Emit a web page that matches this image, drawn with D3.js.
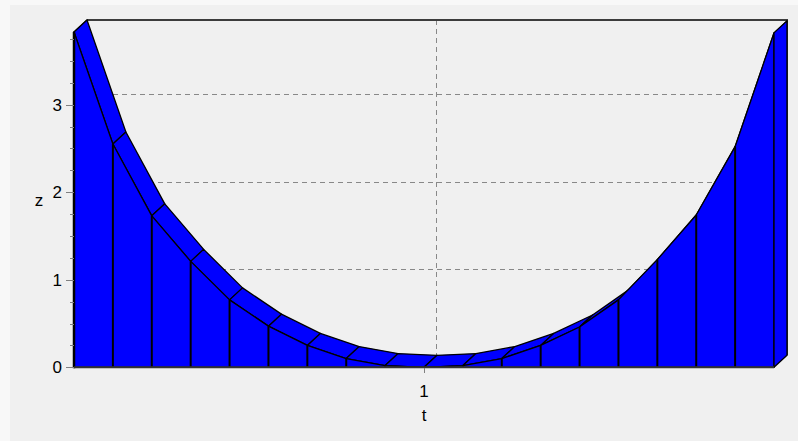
<!DOCTYPE html>
<html><head><meta charset="utf-8">
<script src="https://cdn.jsdelivr.net/npm/d3@7/dist/d3.min.js"></script>
<style>html,body{margin:0;padding:0;background:#f8f8f8;} svg{display:block;}</style>
</head><body><svg id="c" width="798" height="441"></svg>
<script>
// ---- data ----
const tValues = [0.1, 0.2, 0.3, 0.4, 0.5, 0.6, 0.7, 0.8, 0.9, 1.0, 1.1, 1.2, 1.3, 1.4, 1.5, 1.6, 1.7, 1.8, 1.9];
const zValues = [3.83, 2.55, 1.73, 1.21, 0.77, 0.47, 0.25, 0.10, 0.02, 0.0, 0.02, 0.10, 0.25, 0.46, 0.77, 1.23, 1.74, 2.52, 3.82];
const xTickValues = [1];
const xTickLabels = ["1"];
const yTickValues = [0, 1, 2, 3];
const yTickLabels = ["0", "1", "2", "3"];
const yMinorTickValues = [0.25, 0.5, 0.75, 1.25, 1.5, 1.75, 2.25, 2.5, 2.75, 3.25, 3.5, 3.75];
const xTitle = "t";
const yTitle = "z";

// ---- layout ----
const svg = d3.select("#c");
const x = d3.scaleLinear().domain([d3.min(tValues), d3.max(tValues)]).range([74, 774]);
const y = d3.scaleLinear().domain([0, d3.max(zValues)]).range([367.3, 32]);
const dx = 13, dy = -12;      // 3D depth offset of series
const gdx = 12, gdy = -10.5;  // depth offset of back wall grid
const blue = "#0000ff";
const font = "'Liberation Sans', Arial, sans-serif";

svg.append("rect").attr("x", 10).attr("y", 5).attr("width", 788).attr("height", 436).attr("fill", "#f0f0f0");

const x0 = x.range()[0], x1 = x.range()[1];
const yb = y(0), yt = y.range()[1];

// grid on back wall
const grid = svg.append("g").attr("stroke", "#888").attr("stroke-width", 1).attr("stroke-dasharray", "5,4").attr("shape-rendering", "crispEdges");
grid.selectAll("line.h").data(yTickValues.filter(v => v > 0)).join("line")
  .attr("x1", x0 + gdx).attr("x2", x1 + dx)
  .attr("y1", d => Math.round(y(d) + gdy) + 0.5).attr("y2", d => Math.round(y(d) + gdy) + 0.5);
grid.selectAll("line.v").data(xTickValues).join("line")
  .attr("x1", d => Math.round(x(d) + gdx) + 0.5).attr("x2", d => Math.round(x(d) + gdx) + 0.5)
  .attr("y1", yt + dy).attr("y2", yb + gdy);

// back wall frame
svg.append("path")
  .attr("d", `M${x0 + dx},${yt + dy}L${x1 + dx},${yt + dy}L${x1 + dx},${yb + dy}`)
  .attr("fill", "none").attr("stroke", "#3c3c3c").attr("stroke-width", 2);

const pts = tValues.map((t, i) => [x(t), y(zValues[i])]);
const poly = p => "M" + p.map(q => q[0] + "," + q[1]).join("L") + "Z";
const series = svg.append("g").attr("fill", blue).attr("stroke", "#000").attr("stroke-width", 1.3).attr("stroke-linejoin", "round");

// left cap
series.append("path").attr("d", poly([[x0, yb], pts[0], [pts[0][0] + dx, pts[0][1] + dy], [x0 + dx, yb + dy]]));
// top surface quads
for (let i = 0; i < pts.length - 1; i++) {
  const a = pts[i], b = pts[i + 1];
  series.append("path").attr("d", poly([a, b, [b[0] + dx, b[1] + dy], [a[0] + dx, a[1] + dy]]));
}
// front face
series.append("path").attr("d", poly([[x0, yb], ...pts, [x1, yb]]));
// front dividers
series.selectAll("line.div").data(pts.slice(1, -1)).join("line")
  .attr("x1", d => d[0]).attr("x2", d => d[0]).attr("y1", yb).attr("y2", d => d[1]).attr("stroke-width", 2);
// right cap
const pl = pts[pts.length - 1];
series.append("path").attr("d", poly([[x1, yb], pl, [pl[0] + dx, pl[1] + dy], [x1 + dx, yb + dy]]));

// axes
svg.append("line").attr("x1", x0).attr("x2", x0).attr("y1", yt).attr("y2", yb + 1).attr("stroke", "#000").attr("stroke-width", 2.5);
svg.append("line").attr("x1", x0).attr("x2", x1).attr("y1", yb).attr("y2", yb).attr("stroke", "#333").attr("stroke-width", 2);

const ax = svg.append("g").attr("stroke", "#808080").attr("stroke-width", 1).attr("shape-rendering", "crispEdges");
ax.selectAll("line.maj").data(yTickValues).join("line")
  .attr("x1", x0 - 8).attr("x2", x0).attr("y1", d => Math.round(y(d)) + 0.5).attr("y2", d => Math.round(y(d)) + 0.5);
ax.selectAll("line.min").data(yMinorTickValues).join("line")
  .attr("x1", x0 - 4).attr("x2", x0).attr("y1", d => Math.round(y(d)) + 0.5).attr("y2", d => Math.round(y(d)) + 0.5);
ax.selectAll("line.xt").data(xTickValues).join("line")
  .attr("x1", d => Math.round(x(d)) + 0.5).attr("x2", d => Math.round(x(d)) + 0.5).attr("y1", yb + 1).attr("y2", yb + 6);

const txt = svg.append("g").attr("font-family", font).attr("font-size", 17).attr("fill", "#000");
txt.selectAll("text.yl").data(yTickValues).join("text")
  .attr("x", 62).attr("y", d => y(d) + 6).attr("text-anchor", "end").text((d, i) => yTickLabels[i]);
txt.selectAll("text.xl").data(xTickValues).join("text")
  .attr("x", d => x(d)).attr("y", yb + 30).attr("text-anchor", "middle").text((d, i) => xTickLabels[i]);
txt.append("text").attr("x", (x0 + x1) / 2).attr("y", yb + 54).attr("text-anchor", "middle").text(xTitle);
txt.append("text").attr("x", 39).attr("y", (yb + yt) / 2 + 6).attr("text-anchor", "middle").text(yTitle);
</script></body></html>
